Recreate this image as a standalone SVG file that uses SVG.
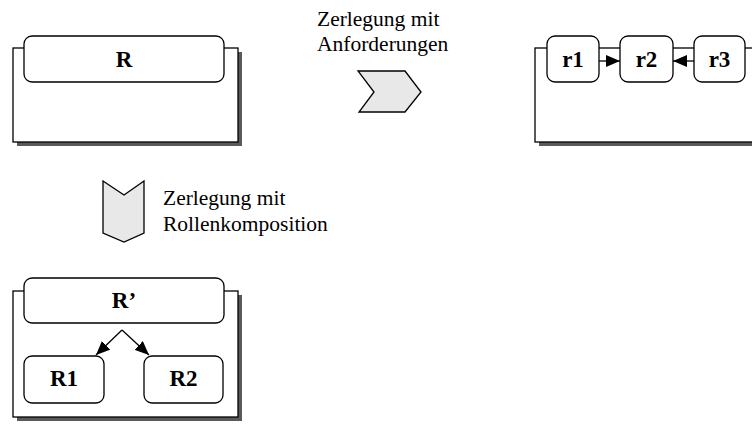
<svg xmlns="http://www.w3.org/2000/svg" width="752" height="428" viewBox="0 0 752 428">
  <defs>
    <marker id="arrow" viewBox="0 0 14 12" refX="14" refY="6" markerWidth="14" markerHeight="12" markerUnits="userSpaceOnUse" orient="auto">
      <path d="M0,0 L14,6 L0,12 Z" fill="#000"/>
    </marker>
  </defs>
  <style>
    .shadow { fill: #5a5a5a; }
    .frame { fill: #fff; stroke: #000; stroke-width: 1.3; }
    .role { fill: #fff; stroke: #000; stroke-width: 1.3; }
    .label { font-family: "Liberation Serif", "Times New Roman", serif; font-weight: bold; font-size: 23px; text-anchor: middle; fill: #000; }
    .note { font-family: "Liberation Serif", "Times New Roman", serif; font-size: 21.5px; fill: #000; }
    .step { fill: #e8e8e8; stroke: #000; stroke-width: 1.3; stroke-linejoin: miter; }
    .link { fill: none; stroke: #000; stroke-width: 1.3; }
  </style>
  <rect width="752" height="428" fill="#fff"/>

  <!-- Role R -->
  <g id="role-R">
    <rect class="shadow" x="17" y="52" width="225" height="94"/>
    <rect class="frame" x="13" y="48" width="225" height="94"/>
    <rect class="role" x="24" y="36" width="200" height="46" rx="8"/>
    <text class="label" x="124" y="67">R</text>
  </g>

  <!-- Decomposition by requirements -->
  <g id="step-requirements">
    <polygon class="step" points="358,71 405,71 421,92 405,112 359,112 374,92"/>
    <text class="note" x="317" y="26">Zerlegung mit</text>
    <text class="note" x="317" y="51">Anforderungen</text>
  </g>

  <!-- Requirement roles r1, r2, r3 -->
  <g id="role-requirements">
    <rect class="shadow" x="539" y="52" width="240" height="94"/>
    <rect class="frame" x="535" y="48" width="240" height="94"/>
  </g>
  <g id="r1">
    <rect class="role" x="547" y="36" width="52" height="46" rx="8"/>
    <text class="label" x="573" y="67">r1</text>
  </g>
  <g id="r2">
    <rect class="role" x="620" y="36" width="53" height="46" rx="8"/>
    <text class="label" x="646.5" y="67">r2</text>
  </g>
  <g id="r3">
    <rect class="role" x="694" y="36" width="51" height="46" rx="8"/>
    <text class="label" x="719.5" y="67">r3</text>
  </g>

  <!-- Decomposition by role composition -->
  <g id="step-composition">
    <polygon class="step" points="103,181 124,195 144,181 144,233 124,242 103,233"/>
    <text class="note" x="163" y="205">Zerlegung mit</text>
    <text class="note" x="163" y="231">Rollenkomposition</text>
  </g>

  <!-- Composite role R' -->
  <g id="role-R-prime">
    <rect class="shadow" x="17" y="295" width="225" height="126"/>
    <rect class="frame" x="13" y="291" width="225" height="126"/>
    <rect class="role" x="24" y="278" width="200" height="45" rx="8"/>
    <text class="label" x="124" y="308">R’</text>
  </g>
  <g id="R1">
    <rect class="role" x="24" y="356" width="80" height="47" rx="8"/>
    <text class="label" x="64" y="386">R1</text>
  </g>
  <g id="R2">
    <rect class="role" x="144" y="356" width="79" height="47" rx="8"/>
    <text class="label" x="183.5" y="386">R2</text>
  </g>

  <!-- Connectors -->
  <g id="connectors">
    <line class="link" x1="599" y1="61" x2="620" y2="61" marker-end="url(#arrow)"/>
    <line class="link" x1="694" y1="61" x2="673" y2="61" marker-end="url(#arrow)"/>
    <line class="link" x1="122" y1="330" x2="96" y2="355" marker-end="url(#arrow)"/>
    <line class="link" x1="122" y1="330" x2="149" y2="355" marker-end="url(#arrow)"/>
  </g>
</svg>
